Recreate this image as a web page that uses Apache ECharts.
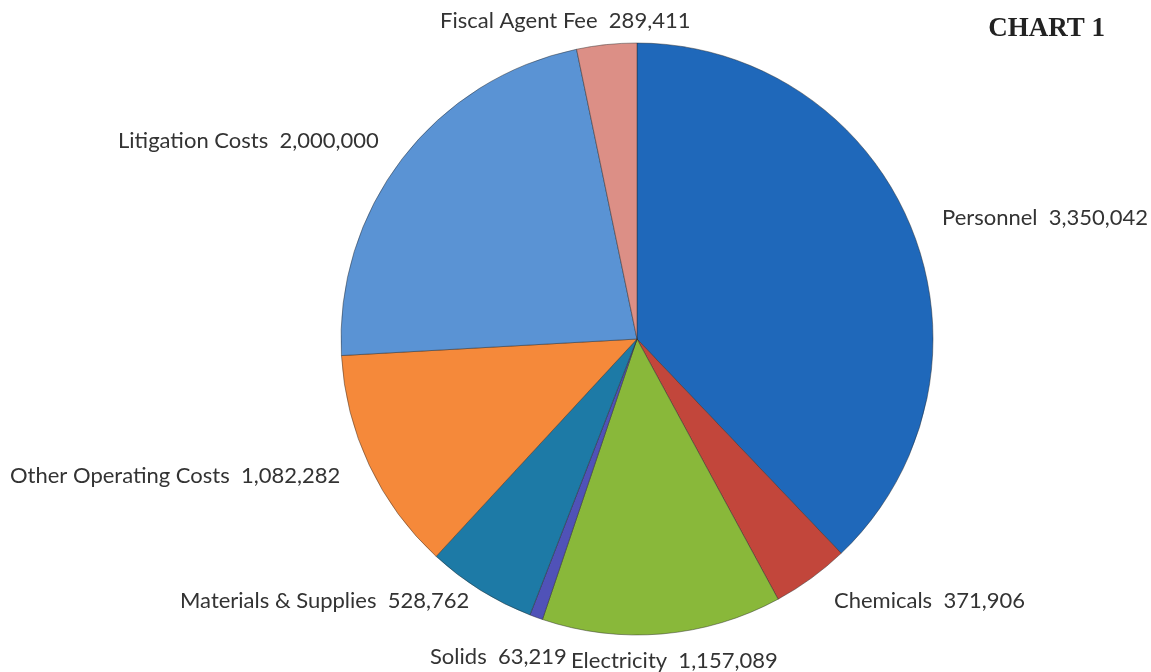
<!DOCTYPE html>
<html>
<head>
<meta charset="utf-8">
<script src="https://cdn.jsdelivr.net/npm/echarts@6/dist/echarts.min.js"></script>
<style>
html,body{margin:0;padding:0;background:#fff;}
#chart{width:1151px;height:672px;}
</style>
</head>
<body>
<div id="chart"></div>
<script>
const categories = ["Personnel", "Chemicals", "Electricity", "Solids", "Materials & Supplies", "Other Operating Costs", "Litigation Costs", "Fiscal Agent Fee"];
const values = [3350042, 371906, 1157089, 63219, 528762, 1082282, 2000000, 289411];
const colors = ["#1F68BA", "#C2463B", "#89B83A", "#5052B8", "#1D7AA6", "#F5893A", "#5A93D4", "#DC8F86"];

// label anchor points (left, middle) in pixels
const labelPos = [[942, 218], [834, 601], [571, 661], [430, 657], [180, 601], [10, 476], [118, 141], [440, 21]];

const fmt = v => v.toLocaleString('en-US');

const chart = echarts.init(document.getElementById('chart'));
chart.setOption({
  backgroundColor: '#ffffff',
  animation: false,
  title: {
    text: 'CHART 1',
    right: 41,
    top: 11,
    textStyle: { fontFamily: 'Liberation Serif', fontWeight: 'bold', fontSize: 27, color: '#222' }
  },
  series: [{
    type: 'pie',
    center: [637, 339],
    radius: 296,
    startAngle: 90,
    clockwise: true,
    data: categories.map((c, i) => ({ name: c, value: values[i], itemStyle: { color: colors[i] } })),
    itemStyle: { borderColor: 'rgba(40,40,40,0.45)', borderWidth: 1 },
    label: {
      show: true,
      position: 'outside',
      overflow: 'none',
      formatter: p => p.name + '  ' + fmt(p.value),
      fontFamily: 'Lato',
      fontSize: 22,
      color: '#333333'
    },
    labelLine: { show: false },
    labelLayout: p => ({ x: labelPos[p.dataIndex][0], y: labelPos[p.dataIndex][1], align: 'left', verticalAlign: 'middle' })
  }]
});
</script>
</body>
</html>
